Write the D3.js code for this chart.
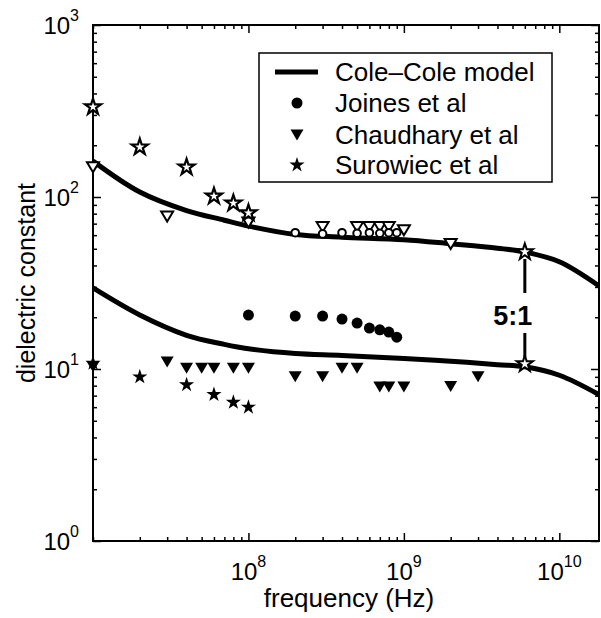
<!DOCTYPE html>
<html>
<head>
<meta charset="utf-8">
<script src="https://cdn.jsdelivr.net/npm/d3@7"></script>
<style>
  body { margin: 0; background: #fff; }
  text { font-family: "Liberation Sans", Arial, Helvetica, sans-serif; fill: #000; }
</style>
</head>
<body>
<svg id="chart" width="601" height="618"></svg>
<script>
// Cole–Cole model, high-water and low-water tissue
const coleFreq = [1e7, 2e7, 4e7, 7e7, 1e8, 2e8, 4e8, 1e9, 2e9, 4e9, 6e9, 1e10, 1.8e10];
const coleHigh = [161.8, 106.9, 83.4, 73.3, 67.7, 60.5, 58.4, 56.5, 53.5, 50.4, 47.9, 42.0, 30.4];
const coleLow  = [29.6, 20.6, 15.7, 13.9, 13.1, 12.3, 12.0, 11.5, 11.1, 10.6, 10.3, 9.2, 7.1];

// Joines et al
const joinesLowFreq  = [1e8, 2e8, 3e8, 4e8, 5e8, 6e8, 7e8, 8e8, 9e8];
const joinesLow      = [20.6, 20.3, 20.3, 19.5, 18.5, 17.3, 16.9, 16.4, 15.3];
const joinesHighFreq = [2e8, 3e8, 4e8, 5e8, 6e8, 7e8, 8e8, 9e8];
const joinesHigh     = [62, 61, 62, 61.5, 62, 61.5, 62, 62];

// Chaudhary et al
const chaudharyLowFreq  = [1e7, 3e7, 4e7, 5e7, 6e7, 8e7, 1e8, 2e8, 3e8, 4e8, 5e8, 7e8, 8e8, 1e9, 2e9, 3e9];
const chaudharyLow      = [10.3, 11.0, 10.1, 10.1, 10.1, 10.1, 10.1, 9.0, 9.0, 10.1, 10.1, 7.85, 7.85, 7.85, 7.9, 9.0];
const chaudharyHighFreq = [1e7, 3e7, 1e8, 3e8, 5e8, 6e8, 7e8, 8e8, 1e9, 2e9];
const chaudharyHigh     = [149, 77, 71, 67, 67, 67, 67, 67, 64, 53.3];

// Surowiec et al
const surowiecLowFreq  = [1e7, 2e7, 4e7, 6e7, 8e7, 1e8];
const surowiecLow      = [10.8, 9.0, 8.1, 7.1, 6.4, 6.0];
const surowiecHighFreq = [1e7, 2e7, 4e7, 6e7, 8e7, 1e8];
const surowiecHigh     = [334, 195, 149, 101, 92, 80.7];

// 5:1 ratio marker between the two model curves
const ratioFreq = 6e9;
const ratioValues = [47.9, 10.7];
const ratioLabel = "5:1";

const xTickValues = [1e8, 1e9, 1e10];
const xTickExps = ["8", "9", "10"];
const yTickValues = [1, 10, 100, 1000];
const yTickExps = ["0", "1", "2", "3"];

const legendLabels = ["Cole\u2013Cole model", "Joines et al", "Chaudhary et al", "Surowiec et al"];
const xLabel = "frequency (Hz)";
const yLabel = "dielectric constant";

const svg = d3.select("#chart");
const box = { left: 93, right: 599, top: 25, bottom: 541 };

const x = d3.scaleLog().domain([1e7, 1.8e10]).range([box.left, box.right]);
const y = d3.scaleLog().domain([1, 1000]).range([box.bottom, box.top]);

// clip the model curves to the axes box
svg.append("defs").append("clipPath").attr("id", "box")
  .append("rect").attr("x", box.left).attr("y", box.top)
  .attr("width", box.right - box.left).attr("height", box.bottom - box.top);

const plot = svg.append("g");

// ticks (inside, all four sides)
const xMinor = x.ticks().filter(v => !xTickValues.includes(v));
const yMinor = y.ticks().filter(v => !yTickValues.includes(v));

function tickGroup(axis, tx, ty) {
  const g = plot.append("g").attr("transform", `translate(${tx},${ty})`).call(axis);
  g.select(".domain").remove();
  g.selectAll("line").attr("stroke", "#000").attr("stroke-width", 1.5);
  g.selectAll("text").remove();
}
tickGroup(d3.axisBottom(x).tickValues(xMinor).tickSize(-4), 0, box.bottom);
tickGroup(d3.axisBottom(x).tickValues(xTickValues).tickSize(-8), 0, box.bottom);
tickGroup(d3.axisTop(x).tickValues(xMinor).tickSize(-4), 0, box.top);
tickGroup(d3.axisTop(x).tickValues(xTickValues).tickSize(-8), 0, box.top);
tickGroup(d3.axisLeft(y).tickValues(yMinor).tickSize(-4), box.left, 0);
tickGroup(d3.axisLeft(y).tickValues(yTickValues).tickSize(-8), box.left, 0);
tickGroup(d3.axisRight(y).tickValues(yMinor).tickSize(-4), box.right, 0);
tickGroup(d3.axisRight(y).tickValues(yTickValues).tickSize(-8), box.right, 0);

// frame
plot.append("rect").attr("x", box.left).attr("y", box.top)
  .attr("width", box.right - box.left).attr("height", box.bottom - box.top)
  .attr("fill", "none").attr("stroke", "#000").attr("stroke-width", 2);

// tick labels with superscript exponents
function powerLabel(px, py, exp, anchor) {
  const t = svg.append("text").attr("x", px).attr("y", py).attr("text-anchor", anchor)
    .style("font-size", "24px");
  t.append("tspan").text("10");
  t.append("tspan").attr("dy", -13).style("font-size", "16px").text(exp);
}
xTickValues.forEach((v, i) => powerLabel(x(v), 580, xTickExps[i], "middle"));
yTickValues.forEach((v, i) => powerLabel(79, y(v) + 9, yTickExps[i], "end"));

// axis titles
svg.append("text").attr("x", (box.left + box.right) / 2 + 3).attr("y", 607).attr("text-anchor", "middle")
  .style("font-size", "26px").text(xLabel);
svg.append("text").attr("transform", `translate(35,${(box.top + box.bottom) / 2}) rotate(-90)`)
  .attr("text-anchor", "middle").style("font-size", "25px").text(yLabel);

// model curves
const curves = plot.append("g").attr("clip-path", "url(#box)");
const line = d3.line().x(d => x(d[0])).y(d => y(d[1])).curve(d3.curveCatmullRom.alpha(0.5));
[coleHigh, coleLow].forEach(vals => {
  curves.append("path").datum(coleFreq.map((f, i) => [f, vals[i]]))
    .attr("d", line).attr("fill", "none").attr("stroke", "#000")
    .attr("stroke-width", 5).attr("stroke-linejoin", "round");
});

const marks = plot.append("g");

// marker shapes
const starPath = d3.symbol().type(d3.symbolStar).size(72)();
const starPathOpen = d3.symbol().type(d3.symbolStar).size(80)();
function triPath(w, h) {
  const p = d3.path();
  p.moveTo(-w / 2, -h / 2); p.lineTo(w / 2, -h / 2); p.lineTo(0, h / 2); p.closePath();
  return p.toString();
}
const triFilled = triPath(13, 11);
const triOpen = triPath(12, 10);

function pairs(fs, vs) { return fs.map((f, i) => [f, vs[i]]); }

// open markers (high-water tissue)
marks.selectAll(".ch").data(pairs(chaudharyHighFreq, chaudharyHigh)).join("path")
  .attr("d", triOpen).attr("transform", d => `translate(${x(d[0])},${y(d[1])})`)
  .attr("fill", "#fff").attr("stroke", "#000").attr("stroke-width", 2);
marks.selectAll(".jh").data(pairs(joinesHighFreq, joinesHigh)).join("circle")
  .attr("cx", d => x(d[0])).attr("cy", d => y(d[1])).attr("r", 3.8)
  .attr("fill", "#fff").attr("stroke", "#000").attr("stroke-width", 2);
marks.selectAll(".sh").data(pairs(surowiecHighFreq, surowiecHigh)).join("path")
  .attr("d", starPathOpen).attr("transform", d => `translate(${x(d[0])},${y(d[1])})`)
  .attr("fill", "#fff").attr("stroke", "#000").attr("stroke-width", 2.2);

// filled markers (low-water tissue)
marks.selectAll(".jl").data(pairs(joinesLowFreq, joinesLow)).join("circle")
  .attr("cx", d => x(d[0])).attr("cy", d => y(d[1])).attr("r", 5.5).attr("fill", "#000");
marks.selectAll(".cl").data(pairs(chaudharyLowFreq, chaudharyLow)).join("path")
  .attr("d", triFilled).attr("transform", d => `translate(${x(d[0])},${y(d[1])})`).attr("fill", "#000");
marks.selectAll(".sl").data(pairs(surowiecLowFreq, surowiecLow)).join("path")
  .attr("d", starPath).attr("transform", d => `translate(${x(d[0])},${y(d[1])})`).attr("fill", "#000");

// 5:1 ratio annotation
const rx = x(ratioFreq);
const yUp = y(ratioValues[0]), yDn = y(ratioValues[1]);
const mid = (yUp + yDn) / 2;
marks.append("line").attr("x1", rx).attr("x2", rx).attr("y1", yUp + 7).attr("y2", mid - 15)
  .attr("stroke", "#000").attr("stroke-width", 3);
marks.append("line").attr("x1", rx).attr("x2", rx).attr("y1", mid + 25).attr("y2", yDn - 7)
  .attr("stroke", "#000").attr("stroke-width", 3);
marks.selectAll(".rs").data(ratioValues).join("path")
  .attr("d", starPathOpen).attr("transform", v => `translate(${rx},${y(v)})`)
  .attr("fill", "#fff").attr("stroke", "#000").attr("stroke-width", 2);
svg.append("text").attr("x", rx - 12).attr("y", mid + 17).attr("text-anchor", "middle")
  .style("font-size", "27px").style("font-weight", "bold").text(ratioLabel);

// legend
const lg = svg.append("g");
lg.append("rect").attr("x", 259).attr("y", 53).attr("width", 293).attr("height", 129)
  .attr("fill", "#fff").attr("stroke", "#000").attr("stroke-width", 1.5);
const rowY = [72, 103, 135, 165];
lg.append("line").attr("x1", 275).attr("x2", 318).attr("y1", rowY[0]).attr("y2", rowY[0])
  .attr("stroke", "#000").attr("stroke-width", 5);
lg.append("circle").attr("cx", 297).attr("cy", rowY[1]).attr("r", 5.5).attr("fill", "#000");
lg.append("path").attr("d", triFilled).attr("transform", `translate(297,${rowY[2]})`).attr("fill", "#000");
lg.append("path").attr("d", starPath).attr("transform", `translate(297,${rowY[3]})`).attr("fill", "#000");
legendLabels.forEach((t, i) => {
  lg.append("text").attr("x", 335).attr("y", rowY[i] + 8.5).style("font-size", "26px").text(t);
});
</script>
</body>
</html>
